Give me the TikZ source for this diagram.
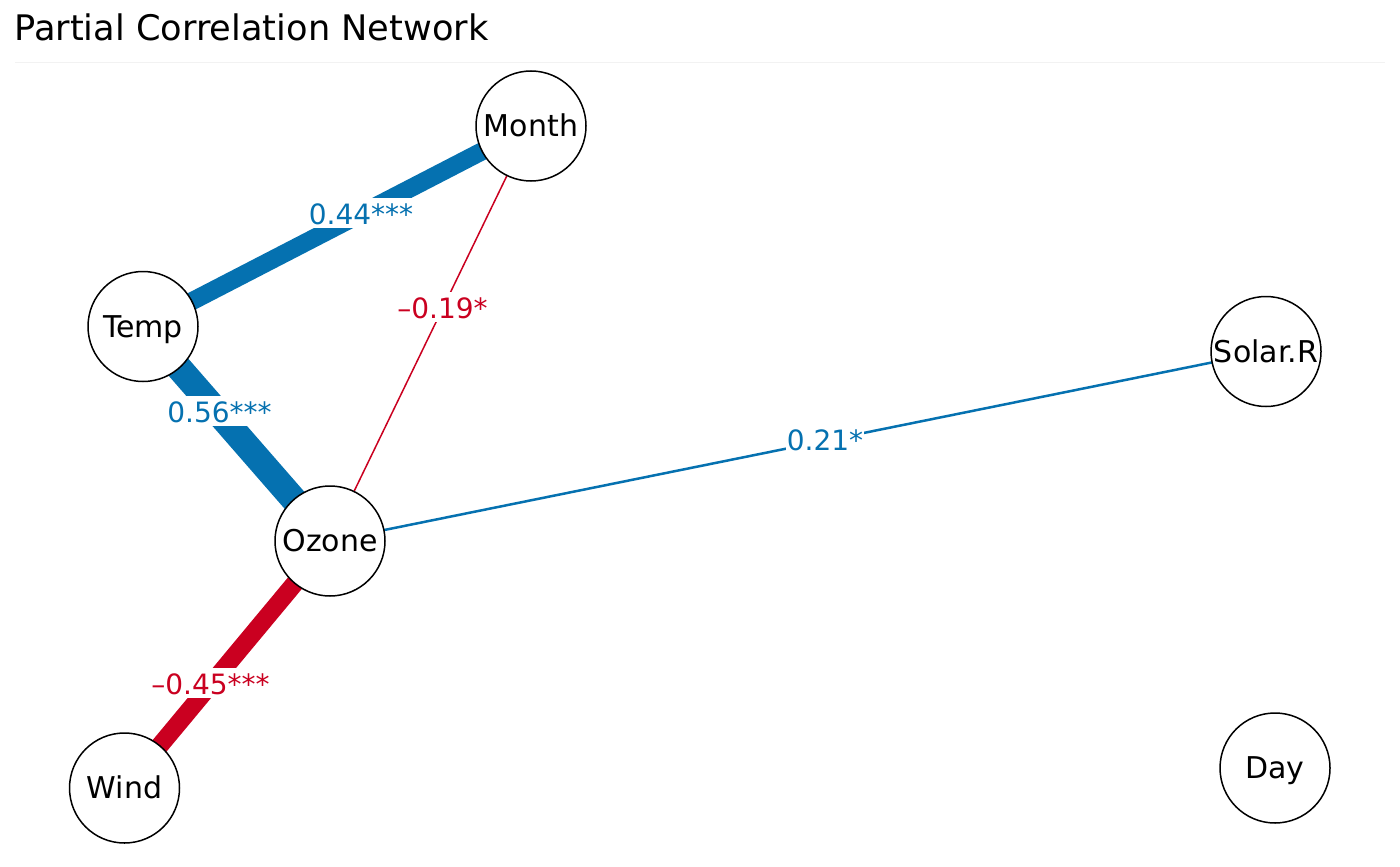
\documentclass[tikz,border=0pt]{standalone}
\usepackage{fontspec}
\setmainfont{DejaVu Sans}
\usetikzlibrary{positioning}
\definecolor{posblue}{HTML}{0571B0}
\definecolor{negred}{HTML}{CA0020}
\definecolor{rulegray}{HTML}{F2F2F2}
\pgfdeclarelayer{edges}
\pgfsetlayers{edges,main}
\tikzset{
  var/.style={circle, draw=black, line width=0.75pt, fill=white, minimum size=55pt, inner sep=0pt,
    font=\fontsize{15pt}{18pt}\selectfont, text height=10.94pt, text depth=0pt},
  poslink/.style={draw=posblue},
  neglink/.style={draw=negred},
  wlabel/.style={fill=white, inner sep=0pt, inner xsep=0.5pt, anchor=base,
    font=\fontsize{14pt}{17pt}\selectfont, text height=13pt, text depth=2pt},
  titletext/.style={anchor=base west, inner sep=0pt, font=\fontsize{17.6pt}{20pt}\selectfont}
}
\begin{document}
\begin{tikzpicture}[x=0.5pt, y=-0.5pt]
\useasboundingbox (0,0) rectangle (1400,866);
% title
\node[titletext] (title) at (14,40.7) {Partial Correlation Network};
\coordinate (rl) at (15,62.7);
\coordinate (rr) at (1385,62.7);
\draw[rulegray, line width=0.5pt] (rl) -- (rr);
% variables
\node[var] (month) at (531,126) {Month};
\node[var] (temp) at (143,326.5) {Temp};
\node[var] (solar) at (1266,351.5) {Solar.R};
\node[var] (ozone) at (330,541) {Ozone};
\node[var] (wind) at (124.5,788) {Wind};
\node[var] (day) at (1275,768) {Day};
% edges
\begin{pgfonlayer}{edges}
\fill[white] (0,0) rectangle (1400,866);
\draw[poslink, line width=9pt] (temp.center) -- (month.center);
\draw[poslink, line width=13pt] (temp.center) -- (ozone.center);
\draw[neglink, line width=0.75pt] (ozone.center) -- (month.center);
\draw[poslink, line width=1.25pt] (ozone.center) -- (solar.center);
\draw[neglink, line width=9pt] (wind.center) -- (ozone.center);
% edge labels
\node[wlabel, text=posblue] (l44) at (361,224.3) {0.44***};
\node[wlabel, text=negred] (l19) at (442.5,318) {–0.19*};
\node[wlabel, text=posblue] (l56) at (219.5,422) {0.56***};
\node[wlabel, text=posblue] (l21) at (825,450) {0.21*};
\node[wlabel, text=negred] (l45) at (210.5,694) {–0.45***};
\end{pgfonlayer}
\end{tikzpicture}
\end{document}
